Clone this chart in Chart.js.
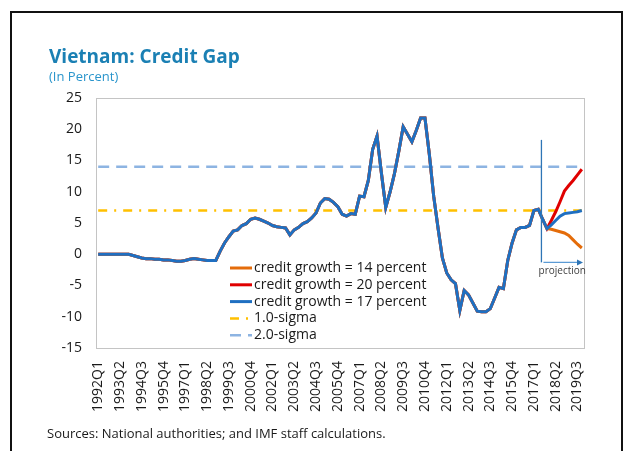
<!DOCTYPE html>
<html>
<head>
<meta charset="utf-8">
<script src="https://cdn.jsdelivr.net/npm/chart.js@4.4.1/dist/chart.umd.min.js"></script>
<style>
  html, body { margin: 0; padding: 0; background: #fff; }
  #wrap { position: relative; width: 631px; height: 451px; overflow: hidden; font-family: "Open Sans", sans-serif; }
  #frame { position: absolute; left: 10px; top: 11px; width: 609px; height: 500px; border: 2px solid #111; border-bottom: none; }
  #title { position: absolute; left: 49px; top: 43px; font-size: 19px; font-weight: bold; color: #1b80b4; white-space: nowrap; }
  #subtitle { position: absolute; left: 49px; top: 67px; font-size: 13px; color: #2a95cc; white-space: nowrap; }
  #source { position: absolute; left: 47px; top: 424px; font-size: 13px; color: #1a1a1a; white-space: nowrap; }
  #chartBox { position: absolute; left: 0; top: 0; width: 631px; height: 451px; }
</style>
</head>
<body>
<div id="wrap">
  <div id="chartBox"><canvas id="chartGap"></canvas></div>
  <div id="frame"></div>
  <div id="title">Vietnam: Credit Gap</div>
  <div id="subtitle">(In Percent)</div>
  <div id="source">Sources: National authorities; and IMF staff calculations.</div>
</div>
<script>
// Quarters 1992Q1 .. 2019Q4
const quarters = [];
for (let yr = 1992; yr <= 2019; yr++) {
    for (let q = 1; q <= 4; q++) quarters.push(yr + "Q" + q);
}

// Credit gap, 1992Q1 .. 2017Q4 (shared by all scenarios)
const history = [
    0, 0, 0, 0, 0, 0, 0, 0, -0.2, -0.4,
    -0.6, -0.7, -0.7, -0.8, -0.8, -0.9, -0.9, -1.0, -1.1, -1.1,
    -1.0, -0.8, -0.7, -0.8, -0.9, -1.0, -1.0, -1.0, 0.5, 1.8,
    2.8, 3.7, 3.9, 4.6, 4.9, 5.6, 5.8, 5.6, 5.3, 5.0,
    4.6, 4.4, 4.3, 4.2, 3.1, 3.9, 4.3, 4.9, 5.2, 5.8,
    6.6, 8.2, 8.9, 8.8, 8.3, 7.6, 6.4, 6.1, 6.5, 6.4,
    9.3, 9.2, 11.8, 16.8, 18.9, 13.0, 7.5, 10.0, 12.9, 16.5,
    20.4, 19.2, 18.0, 19.8, 21.8, 21.8, 16.0, 9.3, 4.2, -0.6,
    -3.0, -4.1, -4.7, -9.0, -5.8, -6.5, -7.8, -9.1, -9.2, -9.2,
    -8.7, -7.0, -5.3, -5.5, -1.0, 1.8, 3.9, 4.3, 4.3, 4.6,
    7.0, 7.2, 5.6, 4.1
];

// Projections, 2018Q1 .. 2019Q4
const proj14 = [4.0, 3.8, 3.6, 3.4, 3.0, 2.3, 1.6, 1.0];
const proj20 = [5.4, 6.8, 8.4, 10.1, 11.0, 11.8, 12.7, 13.6];
const proj17 = [4.7, 5.4, 6.1, 6.5, 6.6, 6.7, 6.8, 7.0];

const sigmaOne = 7.0;
const sigmaTwo = 14.0;

const yTicks = [25, 20, 15, 10, 5, 0, -5, -10, -15];
const labelEvery = 5;
const projectionFrom = "2017Q2";

// caja gris alrededor del área de trazado
const plotBorder = {
    id: "plotBorder",
    beforeDatasetsDraw(chart) {
        const a = chart.chartArea, ctx = chart.ctx;
        ctx.save();
        ctx.strokeStyle = "#c4c4c4";
        ctx.lineWidth = 1;
        ctx.strokeRect(Math.round(a.left) + 0.5, Math.round(a.top) + 0.5, Math.round(a.right - a.left), Math.round(a.bottom - a.top));
        ctx.restore();
    }
};

// marca de proyección: línea vertical + flecha
const projectionMark = {
    id: "projectionMark",
    afterDatasetsDraw(chart) {
        const x = chart.scales.x, y = chart.scales.y, ctx = chart.ctx;
        const i = quarters.indexOf(projectionFrom);
        const px = (x.getPixelForValue(i) + x.getPixelForValue(i + 1)) / 2 + 1;
        const top = y.getPixelForValue(18.3);
        const bot = y.getPixelForValue(-1.3);
        const right = chart.chartArea.right - 1;
        ctx.save();
        ctx.strokeStyle = "#2e75b6";
        ctx.lineWidth = 1.3;
        ctx.beginPath();
        ctx.moveTo(px, top);
        ctx.lineTo(px, bot);
        ctx.stroke();
        ctx.strokeStyle = "#5b9bd5";
        ctx.beginPath();
        ctx.moveTo(px + 2, bot);
        ctx.lineTo(right - 4, bot);
        ctx.stroke();
        ctx.fillStyle = "#2e75b6";
        ctx.beginPath();
        ctx.moveTo(right, bot);
        ctx.lineTo(right - 6, bot - 3);
        ctx.lineTo(right - 6, bot + 3);
        ctx.closePath();
        ctx.fill();
        ctx.fillStyle = "#404040";
        ctx.font = "10px 'Open Sans'";
        ctx.textAlign = "center";
        ctx.textBaseline = "alphabetic";
        ctx.fillText("projection", (px + right) / 2, bot + 12);
        ctx.restore();
    }
};

// leyenda dentro del gráfico
const insideLegend = {
    id: "insideLegend",
    afterDraw(chart) {
        const ctx = chart.ctx;
        const x0 = 230, x1 = 252, tx = 254;
        let yy = 268;
        ctx.save();
        ctx.font = "14px 'Open Sans'";
        ctx.textBaseline = "middle";
        ctx.textAlign = "left";
        chart.data.datasets.forEach(ds => {
            ctx.strokeStyle = ds.borderColor;
            ctx.lineWidth = ds.borderWidth;
            ctx.setLineDash(ds.borderDash || []);
            ctx.beginPath();
            ctx.moveTo(x0, yy);
            ctx.lineTo(x1, yy);
            ctx.stroke();
            ctx.setLineDash([]);
            ctx.fillStyle = "#1a1a1a";
            ctx.fillText(ds.label, tx, yy);
            yy += 16.8;
        });
        ctx.restore();
    }
};

const ctx = document.getElementById("chartGap").getContext("2d");
new Chart(ctx, {
    type: "line",
    data: {
        labels: quarters,
        datasets: [
            {
                label: "credit growth = 14 percent",
                data: history.concat(proj14),
                borderColor: "#e46c0a",
                borderWidth: 3,
                order: 1
            },
            {
                label: "credit growth = 20 percent",
                data: history.concat(proj20),
                borderColor: "#e00000",
                borderWidth: 3,
                order: 1
            },
            {
                label: "credit growth = 17 percent",
                data: history.concat(proj17),
                borderColor: "#1f6fc1",
                borderWidth: 3,
                order: 0
            },
            {
                label: "1.0-sigma",
                data: [{ x: quarters[0], y: sigmaOne }, { x: quarters[quarters.length - 1], y: sigmaOne }],
                borderColor: "#ffc000",
                borderWidth: 2.5,
                borderDash: [9, 7, 2, 7],
                order: 2
            },
            {
                label: "2.0-sigma",
                data: [{ x: quarters[0], y: sigmaTwo }, { x: quarters[quarters.length - 1], y: sigmaTwo }],
                borderColor: "#8db4e2",
                borderWidth: 2.5,
                borderDash: [11, 7],
                order: 2
            }
        ]
    },
    options: {
        responsive: true,
        maintainAspectRatio: false,
        animation: false,
        layout: { padding: { left: 0, right: 47, top: 98, bottom: 0 } },
        elements: {
            point: { radius: 0 },
            line: { tension: 0, borderCapStyle: "butt" }
        },
        plugins: {
            legend: { display: false },
            tooltip: { enabled: false }
        },
        scales: {
            x: {
                type: "category",
                offset: true,
                afterFit: s => { s.height = 103; },
                grid: { display: false, drawTicks: false },
                border: { display: false },
                ticks: {
                    autoSkip: false,
                    minRotation: 90,
                    maxRotation: 90,
                    padding: 13,
                    color: "#1a1a1a",
                    font: { family: "Open Sans", size: 14 },
                    callback: (v, i) => (i % labelEvery === 0 ? quarters[i] : "")
                }
            },
            y: {
                min: -15,
                max: 25,
                afterFit: s => { s.width = 96; },
                afterBuildTicks: s => { s.ticks = yTicks.map(v => ({ value: v })); },
                grid: { display: false, drawTicks: false },
                border: { display: false },
                ticks: {
                    padding: 14,
                    color: "#1a1a1a",
                    font: { family: "Open Sans", size: 14 }
                }
            }
        }
    },
    plugins: [plotBorder, projectionMark, insideLegend]
});
</script>
</body>
</html>
